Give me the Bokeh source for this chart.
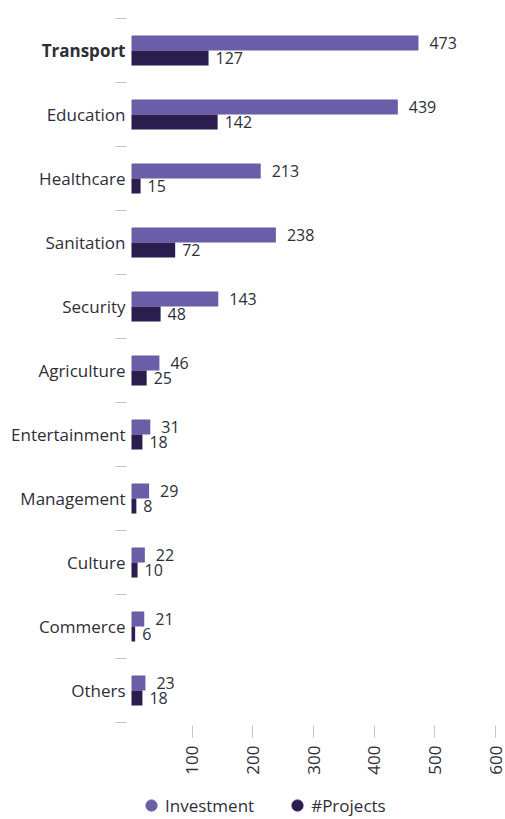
import math
from bokeh.plotting import figure
from bokeh.models import (ColumnDataSource, Range1d, FixedTicker, Legend, LegendItem,
                          LinearAxis)
from bokeh.core.properties import value
from bokeh.embed import file_html
from bokeh.resources import INLINE

categories = ["Transport", "Education", "Healthcare", "Sanitation", "Security", "Agriculture",
              "Entertainment", "Management", "Culture", "Commerce", "Others"]
label_styles = ["bold", "normal", "normal", "normal", "normal", "normal",
                "normal", "normal", "normal", "normal", "normal"]
investment = [473, 439, 213, 238, 143, 46, 31, 29, 22, 21, 23]
projects = [127, 142, 15, 72, 48, 25, 18, 8, 10, 6, 18]
x_ticks = [100, 200, 300, 400, 500, 600]

FONT = "Open Sans"
TXT = "#2e2e38"
C_INV = "#6a5ea8"
C_PRJ = "#2c1d50"
GRAY = "#c4c4cd"
BAR_H = 0.234

W, H = 505, 819
# layout of the plotting area inside the canvas (pixels)
X0_PX, X600_PX = 131, 495     # where value 0 and 600 fall
ROW_PX, TOP_PX = 64, 18       # row height and top edge of first row

n = len(categories)
idx = list(range(n))
k = (X600_PX - X0_PX) / 600.0
x_start = -X0_PX / k
x_end = x_start + W / k
y_top = -0.5 - TOP_PX / ROW_PX
y_bottom = y_top + H / ROW_PX

src = ColumnDataSource(dict(
    y=idx, cat=categories, style=label_styles,
    y_inv=[i - BAR_H / 2 for i in idx],
    y_prj=[i + BAR_H / 2 for i in idx],
    inv=investment, prj=projects,
    inv_txt=[str(v) for v in investment],
    prj_txt=[str(v) for v in projects],
))

p = figure(width=W, height=H, output_backend="svg", toolbar_location=None,
           x_range=Range1d(x_start, x_end), y_range=Range1d(y_bottom, y_top),
           x_axis_location=None, y_axis_location=None,
           min_border_left=0, min_border_top=0, min_border_right=0, min_border_bottom=0)
p.outline_line_color = None
p.grid.visible = False
p.background_fill_color = "white"
p.border_fill_color = "white"

p.hbar(y="y_inv", left=0, right="inv", height=BAR_H, source=src, color=C_INV, line_color=None)
p.hbar(y="y_prj", left=0, right="prj", height=BAR_H, source=src, color=C_PRJ, line_color=None)

p.text(x="inv", y="y_inv", text="inv_txt", source=src, x_offset=11, text_baseline="middle",
       text_font=value(FONT), text_font_size="16px", text_color=TXT)
p.text(x="prj", y="y_prj", text="prj_txt", source=src, x_offset=7, text_baseline="middle",
       text_font=value(FONT), text_font_size="16px", text_color=TXT)

# category labels
p.text(x=0, y="y", text="cat", source=src, x_offset=-6, text_align="right",
       text_baseline="middle", text_font=value(FONT), text_font_size="17px",
       text_font_style="style", text_color=TXT)

# y axis (only the separator dashes between categories)
ya = LinearAxis(fixed_location=0,
                ticker=FixedTicker(ticks=idx, minor_ticks=[i - 0.5 for i in range(n + 1)]))
ya.major_label_overrides = {i: "" for i in idx}
ya.axis_line_color = None
ya.major_tick_line_color = None
ya.minor_tick_line_color = GRAY
ya.minor_tick_in = -5
ya.minor_tick_out = 16
p.add_layout(ya, "left")

# x axis
xa = LinearAxis(fixed_location=n - 0.5, ticker=FixedTicker(ticks=x_ticks))
xa.axis_line_color = None
xa.major_tick_line_color = GRAY
xa.major_tick_in = -3
xa.major_tick_out = 15
xa.minor_tick_line_color = None
xa.major_label_orientation = math.pi / 2
xa.major_label_standoff = 8
xa.major_label_text_font = FONT
xa.major_label_text_font_size = "17px"
xa.major_label_text_color = TXT
p.add_layout(xa, "below")

# legend
nan = float("nan")
r1 = p.scatter(x=[nan], y=[nan], marker="circle", size=12, color=C_INV)
r2 = p.scatter(x=[nan], y=[nan], marker="circle", size=12, color=C_PRJ)
legend = Legend(items=[LegendItem(label="Investment", renderers=[r1]),
                       LegendItem(label="#Projects", renderers=[r2])],
                orientation="horizontal", location=(137, 0), border_line_color=None,
                background_fill_alpha=0,
                label_text_font=FONT, label_text_font_size="17px", label_text_color=TXT,
                glyph_width=28, glyph_height=28, spacing=29, label_standoff=0, padding=0)
p.add_layout(legend)

open("out.html", "w").write(file_html(p, INLINE))
